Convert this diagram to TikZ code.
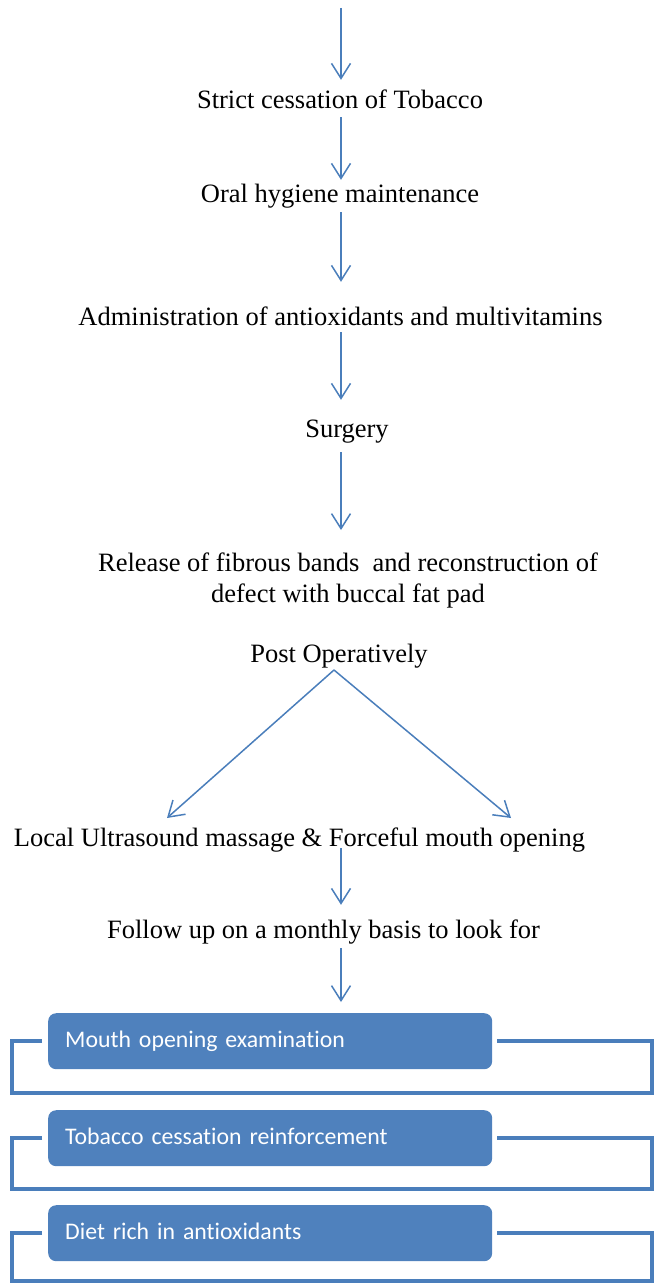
\documentclass[tikz,border=0pt]{standalone}
\usepackage{fontspec}
\setmainfont{Liberation Serif}
\newfontfamily\boxfont[Ligatures=NoCommon]{Carlito}
\usetikzlibrary{arrows.meta,calc}
\definecolor{arrowblue}{HTML}{4A7EBB}
\definecolor{boxblue}{HTML}{4F81BD}
\definecolor{brkblue}{HTML}{4A7EBB}
\begin{document}
\begin{tikzpicture}[x=1pt,y=-1pt,
  txt/.style={font=\fontsize{26.5}{31}\selectfont, inner sep=0pt, text height=18pt, text depth=6pt, anchor=base},
  arr/.style={draw=arrowblue, line width=1.5pt, -{Straight Barb[length=15pt,width=19pt,line width=1.5pt]}},
  bluebox/.style={rectangle, rounded corners=8pt, fill=boxblue, draw=none, minimum width=444pt, minimum height=56pt,
    text width=410pt, inner xsep=17pt, inner ysep=0pt, align=left, anchor=north west, text=white,
    font=\boxfont\fontsize{23.8}{28}\selectfont, text height=17pt, text depth=5pt},
  brk/.style={draw=brkblue, line width=4pt}
]
\useasboundingbox (0,0) rectangle (654,1284);
\coordinate (ax) at (341,0);
\coordinate (start) at (341,8);
\node[txt] (n1) at (340,109) {Strict cessation of Tobacco};
\node[txt] (n2) at (340,202) {Oral hygiene maintenance};
\node[txt] (n3) at (340.5,325) {Administration of antioxidants and multivitamins};
\node[txt] (n4) at (347,437) {Surgery};
\node[font=\fontsize{26.5}{31}\selectfont, inner sep=0pt, align=center, anchor=north] (n5) at (348,553)
  {Release of fibrous bands\ \ and reconstruction of\\defect with buccal fat pad};
\node[txt] (n6) at (339,662) {Post Operatively};
\node[txt] (n7) at (299.5,846) {Local Ultrasound massage \& Forceful mouth opening};
\node[txt] (n8) at (323.5,938) {Follow up on a monthly basis to look for};

\node[bluebox] (b1) at (48,1013) {Mouth opening examination};
\node[bluebox] (b2) at (48,1110) {Tobacco cessation reinforcement};
\node[bluebox] (b3) at (48,1205) {Diet rich in antioxidants};

\coordinate (apex) at (334,670);
\coordinate (lt) at (167,818);
\coordinate (rt) at (511,818);

\draw[arr, shorten >=11pt] (start) -- (n1.north -| ax);
\draw[arr, shorten <=2pt, shorten >=4pt] (n1.south -| ax) -- (n2.north -| ax);
\draw[arr, shorten <=4pt, shorten >=25pt] (n2.south -| ax) -- (n3.north -| ax);
\draw[arr, shorten <=1pt, shorten >=19pt] (n3.south -| ax) -- (n4.north -| ax);
\draw[arr, shorten <=9pt, shorten >=23pt] (n4.south -| ax) -- (n5.north -| ax);
\draw[arr] (apex) -- (lt);
\draw[arr] (apex) -- (rt);
\draw[arr, shorten <=-4pt, shorten >=15pt] (n7.south -| ax) -- (n8.north -| ax);
\draw[arr, shorten <=4pt, shorten >=11pt] (n8.south -| ax) -- (b1.north -| ax);

\draw[brk] ([xshift=-6pt]b1.west) -| ($(b1.west)+(-36,52)$) -| ($(b1.east)+(160,0)$) -- ([xshift=5pt]b1.east);
\draw[brk] ([xshift=-6pt]b2.west) -| ($(b2.west)+(-36,51)$) -| ($(b2.east)+(160,0)$) -- ([xshift=5pt]b2.east);
\draw[brk] ([xshift=-6pt]b3.west) -| ($(b3.west)+(-36,48)$) -| ($(b3.east)+(160,0)$) -- ([xshift=5pt]b3.east);
\end{tikzpicture}
\end{document}
